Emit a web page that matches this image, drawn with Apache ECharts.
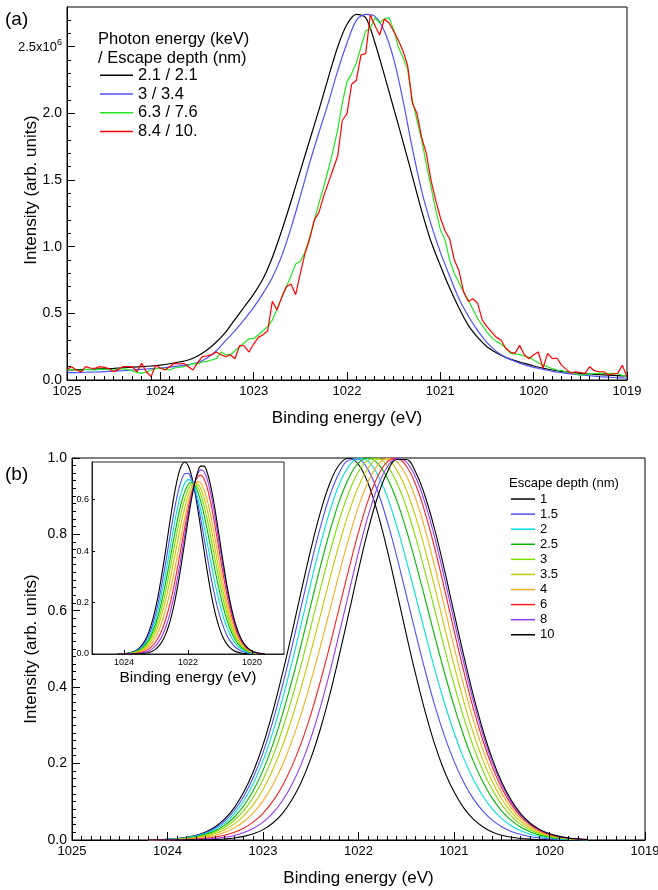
<!DOCTYPE html>
<html><head><meta charset="utf-8">
<script src="https://cdn.jsdelivr.net/npm/echarts@6/dist/echarts.min.js"></script>
<style>html,body{margin:0;padding:0;background:#fff}#c{width:658px;height:890px}</style>
</head><body><div id="c"></div>
<script>
// ---------- Panel (a): measured spectra (intensity in units of 1e6) ----------
const topE = [1025,1024.9,1024.8,1024.7,1024.6,1024.5,1024.4,1024.3,1024.2,1024.1,1024,1023.9,1023.8,1023.7,1023.6,1023.5,1023.4,1023.3,1023.2,1023.1,1023,1022.9,1022.8,1022.7,1022.6,1022.5,1022.4,1022.3,1022.2,1022.1,1022,1021.9,1021.8,1021.7,1021.6,1021.5,1021.4,1021.3,1021.2,1021.1,1021,1020.9,1020.8,1020.7,1020.6,1020.5,1020.4,1020.3,1020.2,1020.1,1020,1019.9,1019.8,1019.7,1019.6,1019.5,1019.4,1019.3,1019.2,1019.1,1019];
const topBlack = [0.075,0.077,0.079,0.082,0.085,0.088,0.092,0.096,0.100,0.105,0.112,0.122,0.135,0.150,0.180,0.225,0.285,0.36,0.455,0.55,0.645,0.76,0.92,1.12,1.34,1.57,1.80,2.03,2.27,2.50,2.67,2.745,2.72,2.53,2.29,2.04,1.79,1.53,1.27,1.04,0.86,0.69,0.54,0.41,0.32,0.25,0.205,0.17,0.145,0.125,0.105,0.088,0.075,0.065,0.057,0.05,0.045,0.04,0.036,0.033,0.03];
const topBlue = [0.055,0.056,0.058,0.060,0.063,0.066,0.070,0.075,0.080,0.085,0.090,0.097,0.106,0.116,0.130,0.165,0.22,0.295,0.37,0.455,0.545,0.65,0.77,0.93,1.14,1.38,1.63,1.86,2.08,2.32,2.53,2.70,2.745,2.73,2.62,2.41,2.10,1.74,1.42,1.17,0.96,0.78,0.61,0.48,0.37,0.28,0.215,0.17,0.14,0.115,0.095,0.08,0.065,0.055,0.045,0.038,0.032,0.026,0.021,0.017,0.013];
const topEf = [1025,1024.95,1024.9,1024.85,1024.8,1024.75,1024.7,1024.65,1024.6,1024.55,1024.5,1024.45,1024.4,1024.35,1024.3,1024.25,1024.2,1024.15,1024.1,1024.05,1024,1023.95,1023.9,1023.85,1023.8,1023.75,1023.7,1023.65,1023.6,1023.55,1023.5,1023.45,1023.4,1023.35,1023.3,1023.25,1023.2,1023.15,1023.1,1023.05,1023,1022.95,1022.9,1022.85,1022.8,1022.75,1022.7,1022.65,1022.6,1022.55,1022.5,1022.45,1022.4,1022.35,1022.3,1022.25,1022.2,1022.15,1022.1,1022.05,1022,1021.95,1021.9,1021.85,1021.8,1021.75,1021.7,1021.65,1021.6,1021.55,1021.5,1021.45,1021.4,1021.35,1021.3,1021.25,1021.2,1021.15,1021.1,1021.05,1021,1020.95,1020.9,1020.85,1020.8,1020.75,1020.7,1020.65,1020.6,1020.55,1020.5,1020.45,1020.4,1020.35,1020.3,1020.25,1020.2,1020.15,1020.1,1020.05,1020,1019.95,1019.9,1019.85,1019.8,1019.75,1019.7,1019.65,1019.6,1019.55,1019.5,1019.45,1019.4,1019.35,1019.3,1019.25,1019.2,1019.15,1019.1,1019.05,1019];
const topGreen = [0.075,0.08,0.075,0.072,0.08,0.078,0.075,0.08,0.082,0.078,0.075,0.08,0.085,0.078,0.07,0.055,0.05,0.06,0.075,0.085,0.09,0.082,0.075,0.09,0.095,0.10,0.11,0.125,0.12,0.135,0.14,0.15,0.16,0.21,0.19,0.19,0.22,0.25,0.28,0.31,0.31,0.34,0.37,0.40,0.45,0.53,0.62,0.70,0.78,0.87,0.89,0.96,1.07,1.20,1.33,1.45,1.58,1.72,1.88,2.08,2.24,2.30,2.38,2.50,2.62,2.64,2.72,2.68,2.71,2.72,2.63,2.50,2.42,2.33,2.10,1.95,1.80,1.62,1.45,1.28,1.13,1.05,0.90,0.80,0.73,0.66,0.60,0.53,0.46,0.41,0.36,0.32,0.29,0.27,0.24,0.20,0.195,0.19,0.18,0.17,0.15,0.13,0.11,0.10,0.085,0.075,0.07,0.062,0.055,0.045,0.037,0.04,0.045,0.048,0.05,0.05,0.048,0.05,0.045,0.035,0.025];
const topRed = [0.08,0.10,0.075,0.062,0.10,0.09,0.088,0.10,0.095,0.085,0.062,0.08,0.10,0.10,0.10,0.062,0.125,0.062,0.025,0.11,0.09,0.075,0.10,0.125,0.12,0.125,0.10,0.075,0.13,0.175,0.18,0.19,0.21,0.19,0.175,0.19,0.16,0.26,0.255,0.21,0.27,0.32,0.34,0.37,0.59,0.525,0.62,0.70,0.72,0.64,0.80,0.95,1.06,1.20,1.26,1.38,1.48,1.58,1.68,1.95,2.00,2.22,2.25,2.44,2.45,2.74,2.66,2.59,2.71,2.68,2.62,2.55,2.47,2.36,2.08,2.00,1.82,1.70,1.50,1.35,1.22,1.12,1.06,0.90,0.82,0.66,0.59,0.61,0.575,0.45,0.40,0.36,0.32,0.30,0.24,0.21,0.20,0.26,0.19,0.16,0.19,0.21,0.09,0.20,0.16,0.165,0.11,0.08,0.05,0.062,0.055,0.05,0.10,0.07,0.062,0.062,0.04,0.045,0.05,0.11,0.025];
const topNames = ['2.1 / 2.1','3 / 3.4','6.3 / 7.6','8.4 / 10.'];
const topYTicks = [0, 0.5, 1, 1.5, 2, 2.5];

// ---------- Panel (b): simulated, peak-normalised spectra ----------
const bE = [1024.2,1024.1,1024.0,1023.9,1023.8,1023.7,1023.6,1023.5,1023.4,1023.3,1023.2,1023.1,1023.0,1022.9,1022.8,1022.7,1022.6,1022.5,1022.4,1022.3,1022.2,1022.1,1022.0,1021.9,1021.8,1021.7,1021.6,1021.5,1021.4,1021.3,1021.2,1021.1,1021.0,1020.9,1020.8,1020.7,1020.6,1020.5,1020.4,1020.3,1020.2,1020.1,1020.0,1019.9,1019.8,1019.7,1019.6];
const d1  = [0.0005,0.0010,0.0021,0.0039,0.0070,0.0124,0.0211,0.0347,0.0551,0.0847,0.126,0.180,0.249,0.334,0.432,0.539,0.651,0.760,0.857,0.934,0.983,1.000,0.983,0.934,0.857,0.760,0.651,0.539,0.432,0.334,0.249,0.180,0.126,0.0847,0.0551,0.0347,0.0211,0.0124,0.0070,0.0039,0.0021,0.0010,0.0005,0.0002,0.0001,0,0];
const d15 = [0.0005,0.0009,0.0019,0.0035,0.0063,0.0113,0.0191,0.0316,0.0501,0.0772,0.1151,0.1649,0.2288,0.3081,0.4004,0.5024,0.6107,0.7187,0.8182,0.9019,0.9623,0.9948,0.9968,0.9689,0.9131,0.8355,0.7425,0.6415,0.5396,0.4413,0.3510,0.2726,0.2065,0.1521,0.1091,0.0765,0.0522,0.0347,0.0225,0.0143,0.0087,0.0051,0.0030,0.0016,0.0009,0.0005,0.0003];
const d2  = [0.0004,0.0008,0.0017,0.0031,0.0057,0.0101,0.0171,0.0282,0.0448,0.0692,0.1034,0.1486,0.2070,0.2798,0.3655,0.4617,0.5653,0.6712,0.7720,0.8611,0.9318,0.9789,0.9993,0.9919,0.9568,0.8989,0.8223,0.7329,0.6372,0.5395,0.4453,0.3586,0.2815,0.2150,0.1598,0.1159,0.0816,0.0558,0.0372,0.0239,0.0150,0.0091,0.0053,0.0030,0.0017,0.0009,0.0005];
const d25 = [0.0003,0.0007,0.0014,0.0027,0.0048,0.0087,0.0148,0.0244,0.0389,0.0602,0.0902,0.1302,0.1822,0.2477,0.3257,0.4145,0.5120,0.6142,0.7148,0.8080,0.8879,0.9486,0.9870,0.9999,0.9861,0.9484,0.8891,0.8126,0.7244,0.6289,0.5320,0.4385,0.3516,0.2743,0.2077,0.1531,0.1095,0.0758,0.0512,0.0333,0.0210,0.0128,0.0076,0.0043,0.0024,0.0012,0.0007];
const d3  = [0.0003,0.0006,0.0012,0.0023,0.0041,0.0074,0.0125,0.0208,0.0332,0.0517,0.0778,0.1127,0.1586,0.2169,0.2872,0.3687,0.4596,0.5572,0.6565,0.7521,0.8389,0.9107,0.9641,0.9945,0.9992,0.9795,0.9360,0.8716,0.7909,0.6984,0.6005,0.5021,0.4079,0.3221,0.2465,0.1834,0.1322,0.0923,0.0626,0.0409,0.0259,0.0159,0.0095,0.0054,0.0030,0.0016,0.0009];
const d35 = [0.0002,0.0005,0.0009,0.0019,0.0034,0.0059,0.0102,0.0169,0.0271,0.0423,0.0640,0.0934,0.1323,0.1824,0.2439,0.3168,0.3997,0.4913,0.5875,0.6840,0.7764,0.8582,0.9258,0.9733,0.9966,0.9953,0.9683,0.9170,0.8452,0.7572,0.6598,0.5582,0.4581,0.3651,0.2816,0.2110,0.1530,0.1073,0.0732,0.0480,0.0305,0.0188,0.0112,0.0064,0.0035,0.0019,0.0010];
const d4  = [0.0002,0.0003,0.0007,0.0013,0.0024,0.0044,0.0074,0.0125,0.0202,0.0317,0.0484,0.0714,0.1024,0.1431,0.1944,0.2569,0.3300,0.4140,0.5058,0.6020,0.6992,0.7907,0.8727,0.9380,0.9809,0.9994,0.9904,0.9540,0.8926,0.8106,0.7149,0.6111,0.5060,0.4066,0.3157,0.2380,0.1733,0.1221,0.0835,0.0549,0.0350,0.0216,0.0129,0.0074,0.0041,0.0022,0.0012];
const d6  = [0.0001,0.0002,0.0004,0.0008,0.0015,0.0026,0.0045,0.0078,0.0126,0.0202,0.0315,0.0476,0.0699,0.1004,0.1403,0.1914,0.2535,0.3283,0.4143,0.5088,0.6097,0.7100,0.8057,0.8886,0.9512,0.9898,0.9997,0.9791,0.9293,0.8546,0.7621,0.6575,0.5487,0.4439,0.3466,0.2625,0.1920,0.1356,0.0932,0.0613,0.0391,0.0242,0.0145,0.0083,0.0046,0.0025,0.0013];
const d8  = [0,0.0001,0.0002,0.0004,0.0008,0.0014,0.0025,0.0044,0.0073,0.0120,0.0195,0.0306,0.0468,0.0697,0.1014,0.1440,0.1979,0.2659,0.3471,0.4399,0.5427,0.6484,0.7532,0.8477,0.9237,0.9763,0.9993,0.9899,0.9487,0.8797,0.7901,0.6857,0.5749,0.4671,0.3660,0.2780,0.2038,0.1443,0.0992,0.0653,0.0418,0.0259,0.0155,0.0089,0.0049,0.0027,0.0014];
const d10 = [0,0,0,0.0001,0.0002,0.0004,0.0007,0.0015,0.0028,0.0052,0.0094,0.0163,0.0272,0.0439,0.0686,0.104,0.151,0.213,0.290,0.381,0.485,0.595,0.707,0.811,0.898,0.962,0.996,0.996,0.962,0.898,0.811,0.707,0.595,0.485,0.381,0.290,0.213,0.151,0.104,0.0686,0.0439,0.0272,0.0163,0.0094,0.0052,0.0028,0.0015];
const depthNames = ['1','1.5','2','2.5','3','3.5','4','6','8','10'];
const depthCurves = [d1,d15,d2,d25,d3,d35,d4,d6,d8,d10];
// inset: absolute (not peak-normalised) peak heights
const insetPeaks = [0.748,0.706,0.680,0.668,0.664,0.665,0.672,0.697,0.718,0.735];
const insetYTicks = [0, 0.2, 0.4, 0.6];
const insetXTicks = [1020, 1022, 1024];

// ---------- styling ----------
const FONT = 'Liberation Sans, Arial, Helvetica, sans-serif';
const topColors = ['#000000','#5050ff','#22e622','#ff0000'];
const depthColors = ['#000000','#4d4dff','#00e0e0','#00b800','#7ae000','#c8c800','#ffaa1e','#ff1e1e','#9638ff','#000000'];

const chart = echarts.init(document.getElementById('c'), null, {renderer:'canvas'});

const axisLine = {show:true, lineStyle:{color:'#000', width:1}};
const lbl = (size, extra) => Object.assign({color:'#000', fontSize:size, fontFamily:FONT}, extra||{});
const plain = v => String(Math.round(v));

const P = {
  a: {left:67, top:7, width:560, height:373},
  b: {left:72, top:458, width:573, height:382},
  inset: {left:92, top:462, width:192, height:192}
};
const gridBase = {outerBoundsMode:'none', containLabel:false};
const grids = [
  Object.assign({}, gridBase, P.a, {show:true, borderColor:'#000', borderWidth:1, backgroundColor:'transparent'}),
  Object.assign({}, gridBase, P.b, {show:true, borderColor:'#000', borderWidth:1, backgroundColor:'transparent'}),
  Object.assign({}, gridBase, P.inset, {show:true, borderColor:'#222', borderWidth:1, backgroundColor:'#fff', z:4})
];
const xAxes = [
  {type:'value', gridIndex:0, position:'bottom', min:1019, max:1025, inverse:true, interval:1, axisLine, splitLine:{show:false},
   axisTick:{show:false}, axisLabel: lbl(13, {margin:5, formatter: plain})},
  {type:'value', gridIndex:1, position:'bottom', min:1019, max:1025, inverse:true, interval:1, axisLine, splitLine:{show:false},
   axisTick:{show:false}, axisLabel: lbl(13, {margin:5, formatter: plain})},
  {type:'value', gridIndex:2, position:'bottom', min:1019, max:1025, inverse:true, axisLine:{show:true, lineStyle:{color:'#222'}}, splitLine:{show:false},
   axisTick:{show:false}, axisLabel: lbl(9, {margin:4, customValues:insetXTicks, formatter: plain}), z:6}
];
const yAxes = [
  {type:'value', gridIndex:0, position:'left', min:0, max:2.8, axisLine, splitLine:{show:false}, axisTick:{show:false},
   axisLabel: lbl(14, {margin:5, customValues:topYTicks,
     formatter: v => Math.abs(v-2.5)<1e-9 ? '{m|2.5x10}{s|6}' : v.toFixed(1),
     rich:{m:{fontSize:13, fontFamily:FONT, color:'#000', lineHeight:18}, s:{fontSize:9, fontFamily:FONT, color:'#000', lineHeight:9, verticalAlign:'top'}}})},
  {type:'value', gridIndex:1, position:'left', min:0, max:1, interval:0.2, axisLine, splitLine:{show:false}, axisTick:{show:false},
   axisLabel: lbl(14, {margin:5, formatter: v => v.toFixed(1)})},
  {type:'value', gridIndex:2, position:'left', min:0, max:0.748, axisLine:{show:true, lineStyle:{color:'#222'}}, splitLine:{show:false}, axisTick:{show:false},
   axisLabel: lbl(9, {margin:3, customValues:insetYTicks, formatter: v => v.toFixed(1)}), z:6}
];

const series = [];
const topX = [topE, topE, topEf, topEf];
const topY = [topBlack, topBlue, topGreen, topRed];
topNames.forEach((n,k)=>{
  series.push({
    name:n, type:'line', xAxisIndex:0, yAxisIndex:0,
    data: topX[k].map((e,i)=>[e, topY[k][i]]),
    showSymbol:false, smooth: k<2 ? 0.3 : false,
    lineStyle:{color:topColors[k], width:1.2}, itemStyle:{color:topColors[k]},
    z: 2 + k
  });
});
depthNames.forEach((n,k)=>{
  series.push({
    name:n, type:'line', xAxisIndex:1, yAxisIndex:1,
    data: bE.map((e,i)=>[e, depthCurves[k][i]]),
    showSymbol:false, smooth:0.4,
    lineStyle:{color:depthColors[k], width:1.1}, itemStyle:{color:depthColors[k]}, z:3
  });
  series.push({
    name:'inset-'+n, type:'line', xAxisIndex:2, yAxisIndex:2,
    data: bE.map((e,i)=>[e, depthCurves[k][i]*insetPeaks[k]]),
    showSymbol:false, smooth:0.4,
    lineStyle:{color:depthColors[k], width:1.1}, itemStyle:{color:depthColors[k]}, z:5
  });
});

const ctext = (text, x, y, size, rot) => ({
  type:'text', x, y, z:10, rotation: rot||0,
  style:{text, x:0, y:0, fill:'#000', font: size+'px '+FONT, textAlign:'center', textVerticalAlign:'middle'}
});
const ltext = (text, x, y, size) => ({
  type:'text', x, y, z:10,
  style:{text, x:0, y:0, fill:'#000', font: size+'px '+FONT, textAlign:'left', textVerticalAlign:'middle'}
});
const texts = [
  ltext('(a)', 5, 20, 19),
  ltext('(b)', 5, 475, 19),
  ltext('Photon energy (keV)', 98, 39, 16.5),
  ltext('/ Escape depth (nm)', 98, 58, 16.5),
  ltext('Escape depth (nm)', 509, 483, 13),
  ctext('Binding energy (eV)', 347, 418, 17),
  ctext('Binding energy (eV)', 358.5, 878, 17),
  ctext('Binding energy (eV)', 188, 678, 15.5),
  ctext('Intensity (arb. units)', 31, 190, 17, Math.PI/2),
  ctext('Intensity (arb. units)', 31, 649, 17, Math.PI/2)
];

const option = {
  animation:false,
  backgroundColor:'#fff',
  grid: grids, xAxis: xAxes, yAxis: yAxes,
  legend:[
    {data:topNames, orient:'vertical', left:100, top:66, itemWidth:33, itemHeight:1.5, itemGap:0, icon:'rect', selectedMode:false,
     textStyle:{color:'#000', fontSize:16.5, fontFamily:FONT, lineHeight:18.7}, padding:0},
    {data:depthNames, orient:'vertical', left:511, top:491.5, itemWidth:24, itemHeight:1.5, itemGap:0, icon:'rect', selectedMode:false,
     textStyle:{color:'#000', fontSize:13, fontFamily:FONT, lineHeight:15.08}, padding:0}
  ],
  graphic: texts,
  series
};
chart.setOption(option);

// ---------- inward tick marks (thin rects), placed through each grid's own scales ----------
function steps(from, to, step) { const out = []; const n = Math.round((to - from) / step); for (let i = 0; i <= n; i++) out.push(+(from + i * step).toFixed(4)); return out; }
const ticks = [];
function xTicks(grid, values, len, yRef) {
  values.forEach(v => {
    const p = chart.convertToPixel({gridIndex:grid}, [v, yRef]);
    if (!p) return;
    const x = Math.round(p[0] - 0.5), y = Math.round(p[1]);
    ticks.push({type:'rect', z:20, silent:true, shape:{x:x, y:y - len, width:1, height:len}, style:{fill:'#000', stroke:null}});
  });
}
function yTicks(grid, values, len, xRef) {
  values.forEach(v => {
    const p = chart.convertToPixel({gridIndex:grid}, [xRef, v]);
    if (!p) return;
    const x = Math.round(p[0]), y = Math.round(p[1] - 0.5);
    ticks.push({type:'rect', z:20, silent:true, shape:{x:x, y:y, width:len, height:1}, style:{fill:'#000', stroke:null}});
  });
}
const eMajor = steps(1019, 1025, 1);
const eMinor = steps(1019, 1025, 0.1).filter(v => Math.abs(v - Math.round(v)) > 1e-6);
// panel (a)
xTicks(0, eMajor, 8, 0);  xTicks(0, eMinor, 4, 0);
yTicks(0, topYTicks, 8, 1025);
yTicks(0, steps(0, 2.7, 0.1).filter(v => Math.abs(v*2 - Math.round(v*2)) > 1e-6), 4, 1025);
// panel (b)
xTicks(1, eMajor, 8, 0);  xTicks(1, eMinor, 4, 0);
yTicks(1, steps(0, 1, 0.2), 8, 1025);
yTicks(1, steps(0, 1, 0.02).filter(v => Math.abs(v*5 - Math.round(v*5)) > 1e-6), 4, 1025);
// inset
xTicks(2, insetXTicks, 4, 0);
yTicks(2, insetYTicks, 3, 1025);

chart.setOption({graphic: texts.concat(ticks)});
</script></body></html>
